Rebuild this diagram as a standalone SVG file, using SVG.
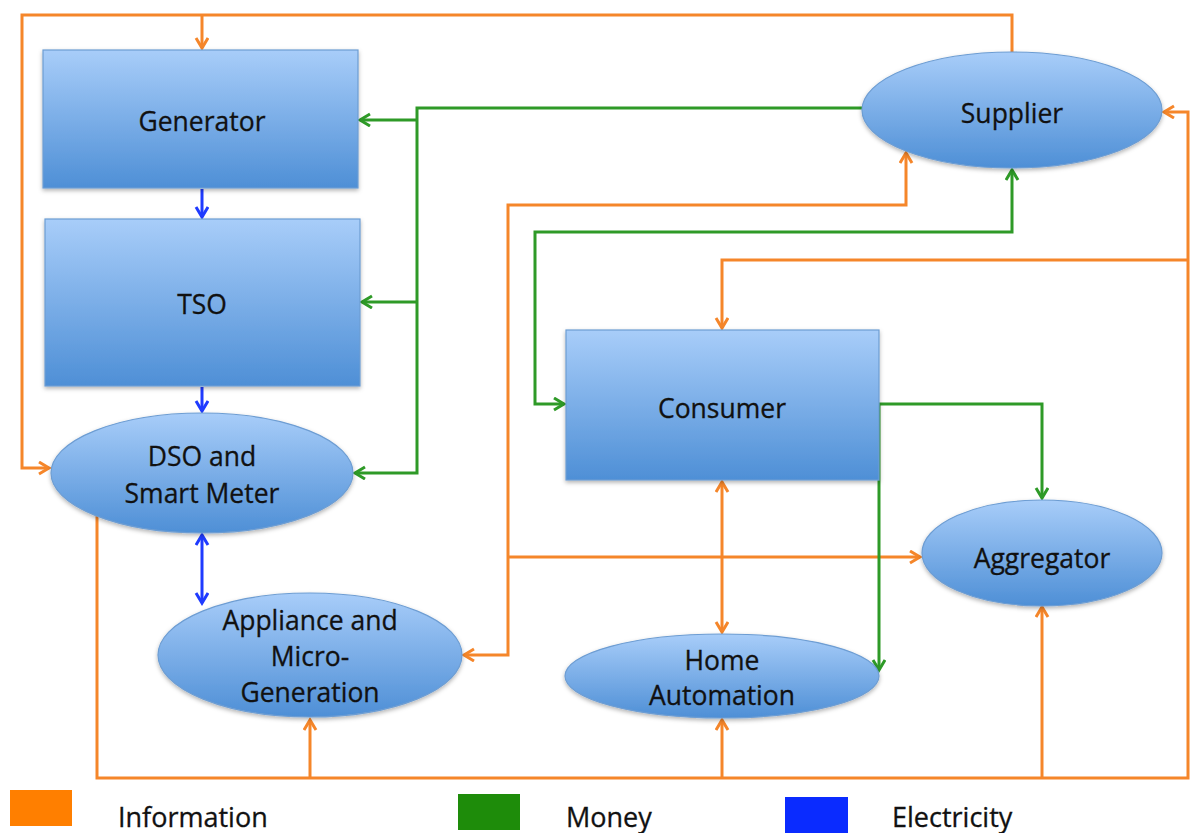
<svg xmlns="http://www.w3.org/2000/svg" width="1201" height="833" viewBox="0 0 1201 833">
<style>
.o{fill:none;stroke:#F5862A;stroke-width:3}
.g{fill:none;stroke:#2E9A27;stroke-width:3}
.b{fill:none;stroke:#1F3BFF;stroke-width:3}
.node{fill:url(#grad);stroke:#6D9DD3;stroke-width:1.2;filter:url(#sh)}
.lbl{font-family:"Open Sans","Liberation Sans",sans-serif;font-size:26.5px;fill:#111;stroke:#111;stroke-width:0.3;text-anchor:middle}
.leg{font-family:"Open Sans","Liberation Sans",sans-serif;font-size:27px;fill:#111;stroke:#111;stroke-width:0.3}
</style>
<defs>
<linearGradient id="grad" x1="0" y1="0" x2="0" y2="1">
<stop offset="0" stop-color="#A8CDF9"/>
<stop offset="1" stop-color="#4E8FD6"/>
</linearGradient>
<filter id="sh" x="-10%" y="-10%" width="120%" height="130%">
<feDropShadow dx="0" dy="2" stdDeviation="2" flood-color="#000" flood-opacity="0.3"/>
</filter>
<marker id="ao" markerUnits="userSpaceOnUse" markerWidth="16" markerHeight="16" refX="11" refY="7" orient="auto-start-reverse"><path d="M1,1 L11,7 L1,13" fill="none" stroke="#F5862A" stroke-width="3"/></marker>
<marker id="ag" markerUnits="userSpaceOnUse" markerWidth="16" markerHeight="16" refX="11" refY="7" orient="auto-start-reverse"><path d="M1,1 L11,7 L1,13" fill="none" stroke="#2E9A27" stroke-width="3"/></marker>
<marker id="ab" markerUnits="userSpaceOnUse" markerWidth="16" markerHeight="16" refX="11" refY="7" orient="auto-start-reverse"><path d="M1,1 L11,7 L1,13" fill="none" stroke="#1F3BFF" stroke-width="3"/></marker>
</defs>
<rect width="1201" height="833" fill="#fff"/>

<g id="connectors">
<path class="o" d="M49,468 L22,468 L22,15 L1012,15 L1012,52" marker-start="url(#ao)"/>
<path class="o" d="M202,15 L202,48" marker-end="url(#ao)"/>
<path class="o" d="M906,153 L906,205 L508,205 L508,655 L464,655" marker-start="url(#ao)" marker-end="url(#ao)"/>
<path class="o" d="M508,557 L920,557" marker-end="url(#ao)"/>
<path class="o" d="M1164,112 L1188,112 L1188,778 L97,778 L97,516" marker-start="url(#ao)"/>
<path class="o" d="M1188,260 L722,260 L722,328" marker-end="url(#ao)"/>
<path class="o" d="M310,778 L310,720" marker-end="url(#ao)"/>
<path class="o" d="M722,778 L722,720" marker-end="url(#ao)"/>
<path class="o" d="M1042,778 L1042,607" marker-end="url(#ao)"/>
<path class="o" d="M722,482 L722,632" marker-start="url(#ao)" marker-end="url(#ao)"/>

<path class="g" d="M862,108 L417,108 L417,473 L355,473" marker-end="url(#ag)"/>
<path class="g" d="M417,120 L360,120" marker-end="url(#ag)"/>
<path class="g" d="M417,302 L362,302" marker-end="url(#ag)"/>
<path class="g" d="M564,404 L535,404 L535,232 L1012,232 L1012,170" marker-start="url(#ag)" marker-end="url(#ag)"/>
<path class="g" d="M879,404 L1042,404 L1042,498" marker-end="url(#ag)"/>
<path class="g" d="M879,404 L879,670" marker-end="url(#ag)"/>

<path class="b" d="M202,189 L202,217" marker-end="url(#ab)"/>
<path class="b" d="M202,387 L202,411" marker-end="url(#ab)"/>
<path class="b" d="M202,535 L202,603" marker-start="url(#ab)" marker-end="url(#ab)"/>
</g>

<g id="generator">
<rect class="node" x="43" y="50" width="315" height="138"/>
<text class="lbl" x="202" y="131">Generator</text>
</g>
<g id="tso">
<rect class="node" x="45" y="219" width="315" height="167"/>
<text class="lbl" x="202" y="314">TSO</text>
</g>
<g id="dso">
<ellipse class="node" cx="202" cy="473" rx="151" ry="60"/>
<text class="lbl" x="202" y="466">DSO and</text>
<text class="lbl" x="202" y="503">Smart Meter</text>
</g>
<g id="appliance">
<ellipse class="node" cx="310" cy="655" rx="152" ry="62"/>
<text class="lbl" x="310" y="630">Appliance and</text>
<text class="lbl" x="310" y="666">Micro-</text>
<text class="lbl" x="310" y="702">Generation</text>
</g>
<g id="supplier">
<ellipse class="node" cx="1012" cy="110" rx="150" ry="58"/>
<text class="lbl" x="1012" y="123">Supplier</text>
</g>
<g id="consumer">
<rect class="node" x="566" y="330" width="313" height="150"/>
<text class="lbl" x="722" y="418">Consumer</text>
</g>
<g id="aggregator">
<ellipse class="node" cx="1042" cy="553" rx="120" ry="53"/>
<text class="lbl" x="1042" y="568">Aggregator</text>
</g>
<g id="home">
<ellipse class="node" cx="722" cy="676" rx="157" ry="42"/>
<text class="lbl" x="722" y="670">Home</text>
<text class="lbl" x="722" y="705">Automation</text>
</g>

<g id="legend">
<rect x="10" y="790" width="62" height="36" fill="#FF7F00"/>
<text class="leg" x="118" y="827">Information</text>
<rect x="458" y="794" width="62" height="36" fill="#1E8C0A"/>
<text class="leg" x="566" y="827">Money</text>
<rect x="785" y="797" width="63" height="36" fill="#0A2BFF"/>
<text class="leg" x="892" y="827">Electricity</text>
</g>
</svg>
